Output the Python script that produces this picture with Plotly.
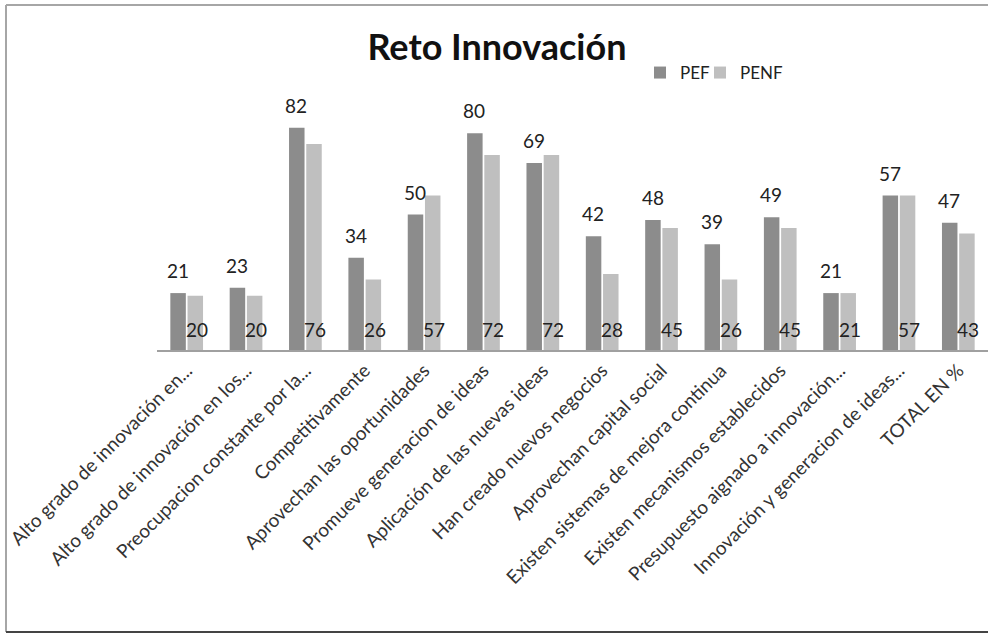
import plotly.graph_objects as go

categories = [
    "Alto grado de innovación en...",
    "Alto grado de innovación en los...",
    "Preocupacion constante por la...",
    "Competitivamente",
    "Aprovechan las oportunidades",
    "Promueve generacion de ideas",
    "Aplicación de las nuevas ideas",
    "Han creado nuevos negocios",
    "Aprovechan capital social",
    "Existen sistemas de mejora continua",
    "Existen mecanismos establecidos",
    "Presupuesto aignado a innovación...",
    "Innovación y generacion de ideas...",
    "TOTAL EN %",
]
pef = [21, 23, 82, 34, 50, 80, 69, 42, 48, 39, 49, 21, 57, 47]
penf = [20, 20, 76, 26, 57, 72, 72, 28, 45, 26, 45, 21, 57, 43]

FONT = "Lato, 'Open Sans', sans-serif"
PEF_COLOR = "#8c8c8c"
PENF_COLOR = "#bfbfbf"

# plot area in pixels: x 157..988, y 79..350
L, R, T, B = 157, 988, 79, 350
W, H = R - L, B - T


def fx(px):
    return (px - L) / W


def fy(py):
    return (B - py) / H


fig = go.Figure()
fig.add_trace(go.Bar(name="PEF", x=categories, y=pef, marker_color=PEF_COLOR,
                     marker_line_width=0, legend="legend", showlegend=True))
fig.add_trace(go.Bar(name="PENF", x=categories, y=penf, marker_color=PENF_COLOR,
                     marker_line_width=0, legend="legend2", showlegend=True))

annotations = []
n = len(categories)
for i, (a, b) in enumerate(zip(pef, penf)):
    # PEF value above its bar
    annotations.append(dict(
        x=i, y=a, xref="x", yref="y", text=str(a), showarrow=False,
        xshift=-9, yshift=9, yanchor="bottom",
        font=dict(family=FONT, size=19, color="#222222"),
    ))
    # PENF value at the foot of its bar
    annotations.append(dict(
        x=i, y=0, xref="x", yref="y", text=str(b), showarrow=False,
        xshift=10, yshift=7, yanchor="bottom",
        font=dict(family=FONT, size=19, color="#222222"),
    ))

legend_style = dict(orientation="h", xanchor="left", yanchor="middle",
                    font=dict(family=FONT, size=17, color="#222222"),
                    itemwidth=30, bgcolor="rgba(0,0,0,0)", visible=True)

fig.update_layout(
    width=988, height=635,
    margin=dict(l=L, r=988 - R, t=T, b=635 - B),
    paper_bgcolor="white", plot_bgcolor="white",
    showlegend=True,
    barmode="group", bargap=0.42, bargroupgap=0.1,
    title=dict(text="<b>Reto Innovación</b>", x=0.503, xanchor="center",
               y=0.926, yanchor="middle",
               font=dict(family=FONT, size=36, color="#111111")),
    legend=dict(x=fx(640), y=fy(73), **legend_style),
    legend2=dict(x=fx(700), y=fy(73), **legend_style),
    xaxis=dict(type="category", tickangle=-45, showgrid=False, ticks="",
               showline=True, linecolor="#a0a0a0", linewidth=2,
               tickfont=dict(family=FONT, size=19, color="#333333"),
               range=[-0.5, n - 0.5]),
    yaxis=dict(range=[0, 100], visible=False, showgrid=False, zeroline=False),
    annotations=annotations,
    # outer frame: top, left and bottom edges
    shapes=[
        dict(type="line", xref="paper", yref="paper", x0=fx(6), x1=fx(990),
             y0=fy(5), y1=fy(5), line=dict(color="#a6a6a6", width=2)),
        dict(type="line", xref="paper", yref="paper", x0=fx(6), x1=fx(6),
             y0=fy(5), y1=fy(632), line=dict(color="#a6a6a6", width=2)),
        dict(type="line", xref="paper", yref="paper", x0=fx(6), x1=fx(990),
             y0=fy(632), y1=fy(632), line=dict(color="#444444", width=2)),
    ],
)

fig.write_html("out.html")
